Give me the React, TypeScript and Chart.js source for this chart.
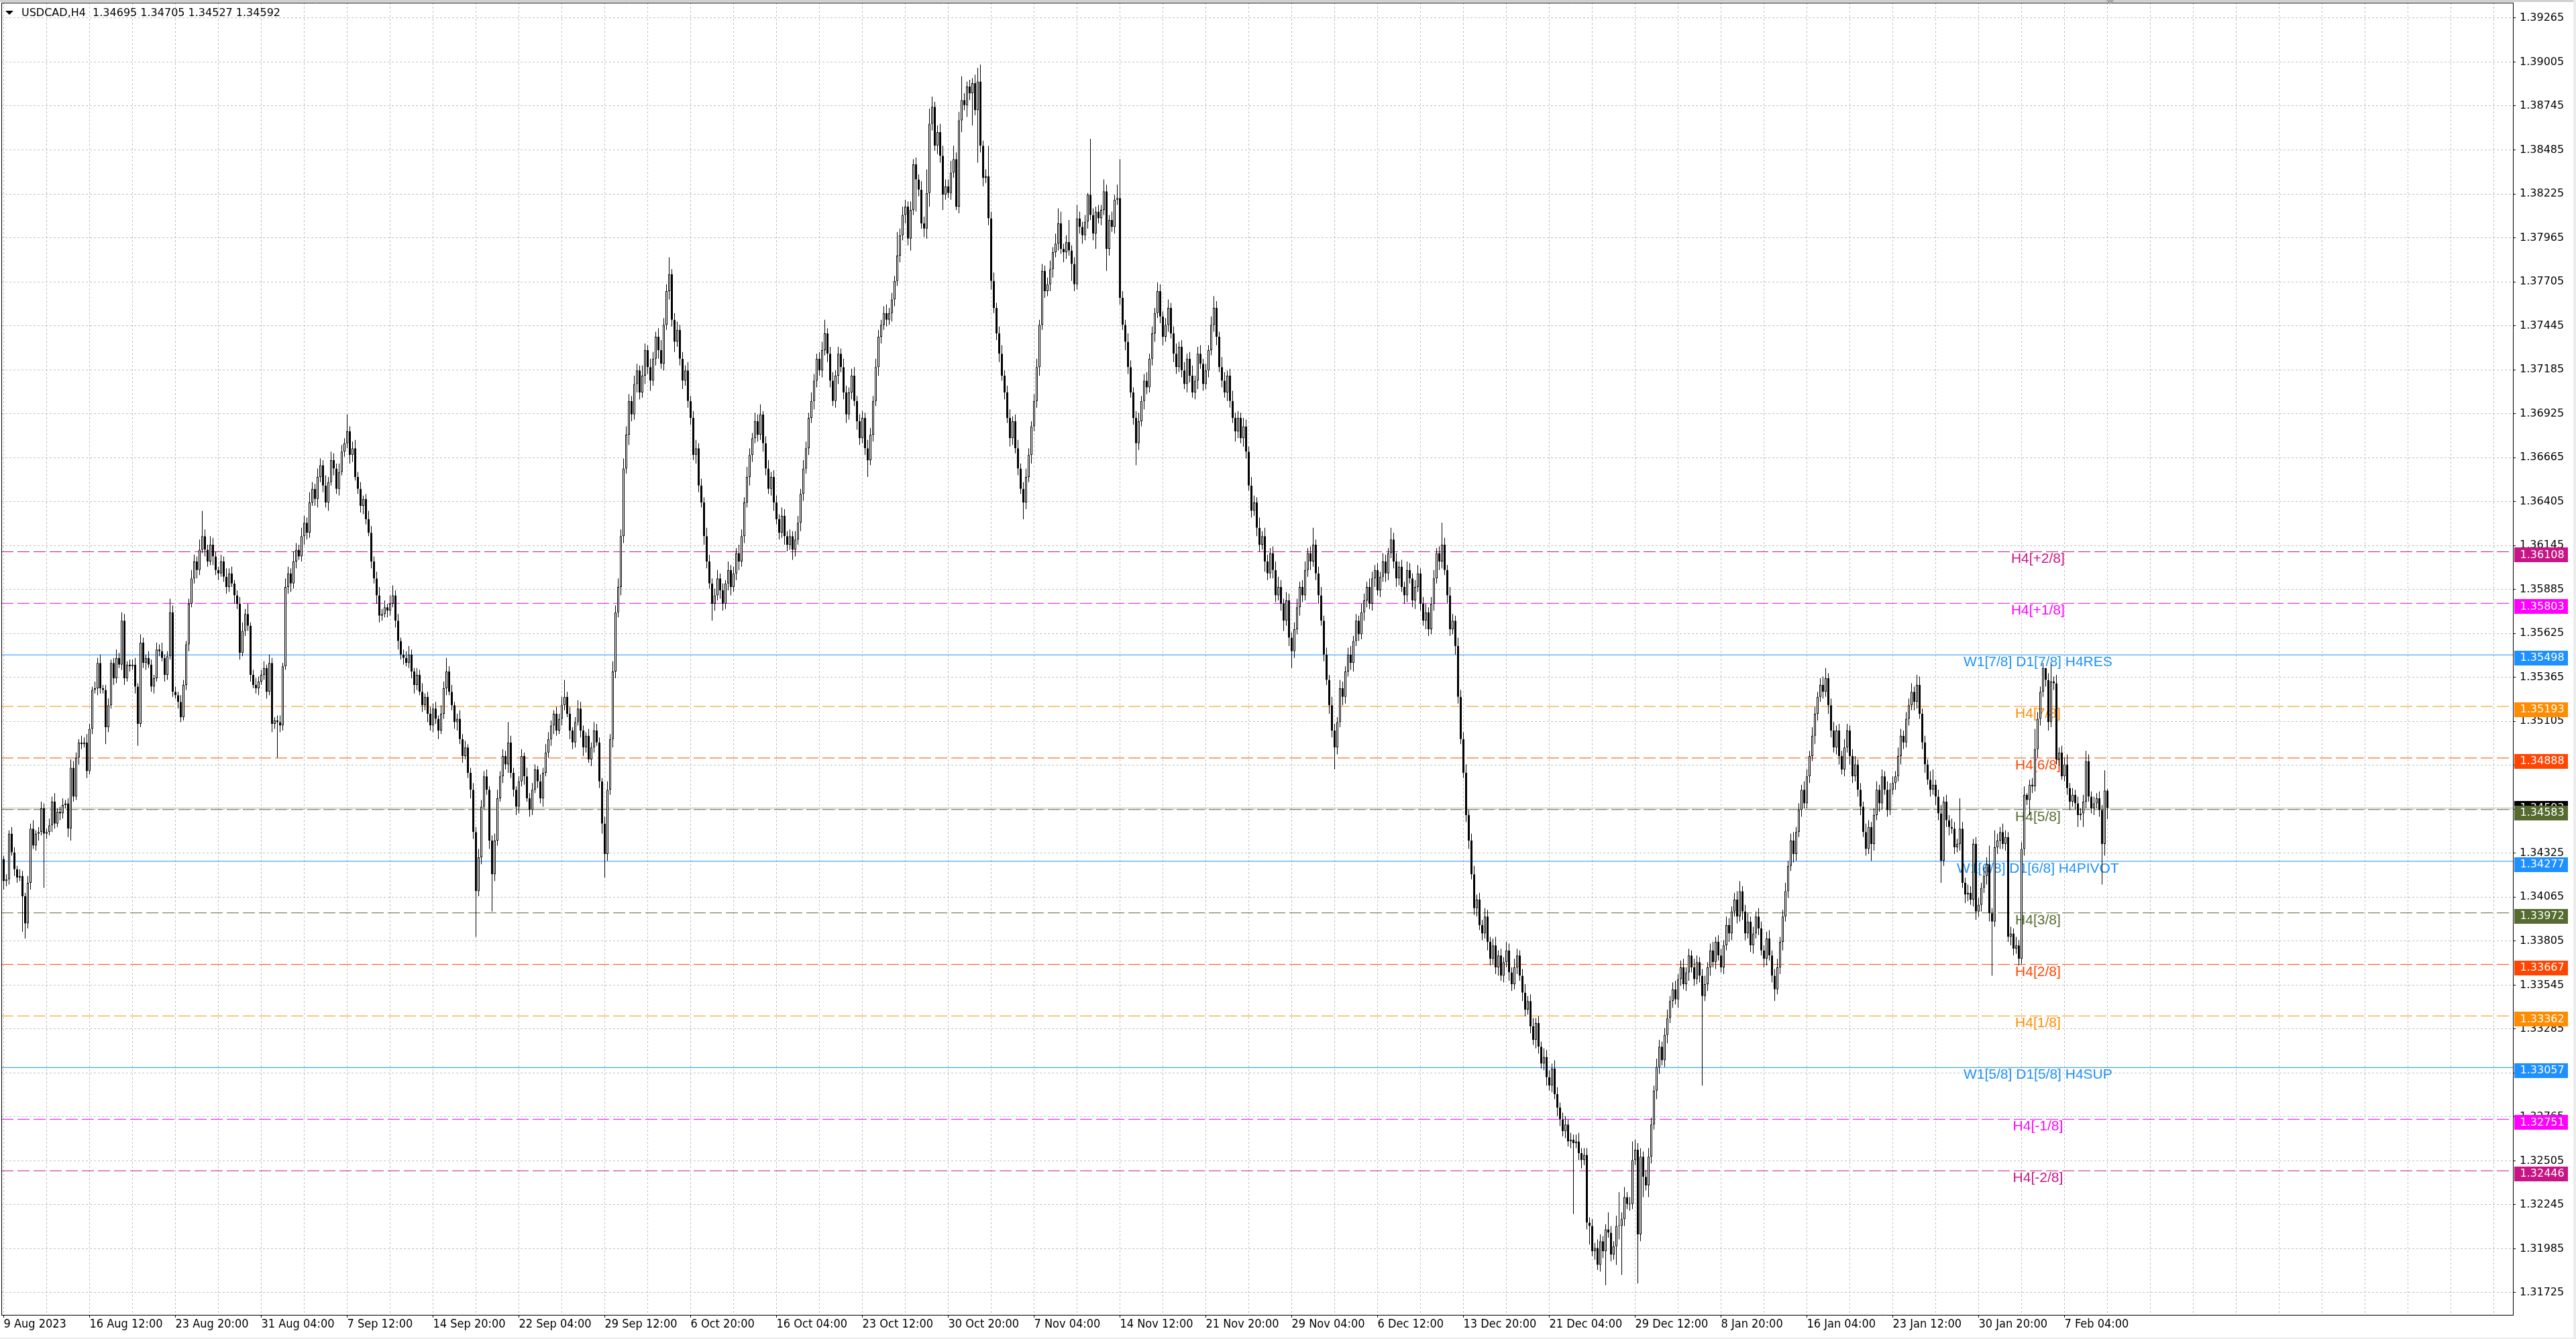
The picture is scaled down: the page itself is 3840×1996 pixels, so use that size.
import React, { useEffect, useRef } from "react";
import { Chart, registerables } from "chart.js";

Chart.register(...registerables);

// ---------- DATA (prices in pips above 1.30000) ----------
const TITLE = "USDCAD,H4  1.34695 1.34705 1.34527 1.34592";
const BASE = 1.3;
const PIP = 0.0001;
const firstOpen = 429;

// closes, 32 bars per row (one row per time-axis label)
const closes = [
  416,417,444,433,423,418,419,407,391,415,447,437,444,445,459,444,445,449,463,450,457,456,461,462,447,483,466,489,498,497,498,481,
  506,529,530,545,530,529,507,520,545,536,548,544,570,536,544,543,544,531,509,557,545,548,544,531,536,553,552,548,538,549,575,528,
  526,522,513,532,556,580,595,605,600,612,620,612,605,615,608,600,598,605,596,590,598,592,585,580,551,564,574,567,538,532,530,534,
  538,542,528,545,509,511,510,508,543,590,598,592,605,612,608,620,628,622,640,648,642,655,662,650,640,652,665,660,648,658,670,675,
  682,668,672,655,648,638,642,630,622,605,595,585,573,574,578,576,580,585,570,558,550,548,545,550,540,532,538,528,520,525,515,508,
  518,512,505,515,530,540,528,520,510,512,500,490,495,480,470,445,410,430,460,478,470,440,420,440,465,478,490,485,498,480,470,460,
  475,490,478,465,458,470,482,475,465,480,492,500,508,515,505,512,520,525,515,505,498,510,518,505,495,502,488,495,505,498,475,450,
  432,470,500,540,575,590,620,660,680,700,692,710,718,705,715,730,720,712,725,738,730,722,745,765,775,748,735,742,725,712,718,700,
  690,668,672,650,640,620,605,592,580,585,595,588,580,592,600,590,598,610,605,620,640,655,668,678,688,680,692,675,660,648,655,640,
  630,622,632,620,615,620,612,618,628,645,660,672,690,700,712,725,718,730,740,728,712,700,715,728,720,705,692,705,715,700,688,678,
  690,672,665,680,700,720,738,745,752,748,752,760,771,786,798,810,815,796,813,840,831,825,805,802,823,864,874,851,859,845,822,827,
  823,835,843,815,866,878,875,886,882,888,872,889,851,832,833,808,771,755,740,728,715,705,690,678,688,672,660,648,640,655,668,685,
  700,720,745,777,765,769,778,788,793,805,790,788,794,789,781,769,808,803,798,806,822,810,799,812,808,813,824,790,807,803,819,820,
  761,745,735,720,705,690,675,688,700,712,708,725,740,752,765,750,738,745,755,740,728,720,732,718,710,725,715,705,712,728,722,710,
  718,730,745,755,738,720,712,705,715,700,690,682,690,678,685,670,650,635,640,625,615,620,605,598,610,600,585,590,580,570,582,560,
  552,565,578,590,585,600,610,605,615,598,585,570,550,535,520,505,495,510,530,525,540,550,545,558,570,562,575,582,590,580,595,600,
  588,596,605,598,610,618,605,595,602,590,585,600,595,582,590,598,580,570,575,565,580,595,610,605,615,600,585,565,570,555,525,500,
  480,455,440,420,400,405,390,385,395,380,370,378,365,372,360,368,375,362,355,365,372,360,350,340,345,330,322,332,318,308,312,300,
  295,305,290,282,275,268,272,262,263,261,262,255,251,254,214,212,197,199,189,203,197,210,208,195,200,212,212,216,229,225,225,251,
  257,207,253,241,236,253,272,292,306,318,310,325,335,345,352,346,358,365,355,362,372,365,358,368,360,348,355,365,375,368,380,372,
  365,378,390,385,398,405,395,410,398,385,392,378,385,395,388,375,370,382,372,360,352,365,380,395,410,425,440,432,445,458,470,462,
  478,490,502,515,525,532,528,536,520,505,495,505,490,482,495,505,490,478,485,470,460,445,435,448,438,455,470,462,478,470,458,470,
  474,478,490,502,498,512,520,528,522,532,515,498,485,476,470,473,466,456,428,463,452,448,447,436,438,447,415,408,409,405,438,398,
  402,412,419,426,397,392,436,440,445,438,442,383,385,376,378,370,435,467,464,473,472,494,512,528,542,535,510,534,533,488,492,478,
  485,471,463,467,462,455,456,463,487,466,459,462,465,458,438,469.5,459.2,
];

// upper wick (pips above body top)
const upperWicks = [
  2,3,2,4,3,2,4,3,2,4,3,5,2,3,4,3,2,4,3,5,2,3,4,2,3,5,4,3,2,4,3,5,
  3,2,4,3,5,2,3,4,2,3,5,3,5,4,2,3,3,4,2,5,3,2,4,3,2,4,3,5,2,3,8,4,
  3,2,4,3,2,3,5,4,3,6,15,4,3,5,4,3,2,4,3,5,3,4,2,3,4,5,3,6,2,3,4,3,
  3,4,2,5,3,2,3,4,2,5,4,3,6,4,3,5,4,3,6,4,3,5,4,3,6,3,5,4,3,5,4,3,
  10,3,4,5,3,4,2,3,5,4,3,4,5,3,4,2,5,6,3,4,2,3,4,5,3,2,4,3,5,2,3,4,
  3,4,2,5,4,8,3,4,2,3,5,3,4,2,3,4,3,5,4,3,4,2,3,4,5,3,4,3,12,4,3,2,
  3,4,2,5,3,4,3,2,4,3,5,4,3,2,4,3,5,10,3,4,2,3,5,4,3,2,4,3,5,4,3,2,
  4,5,3,6,4,5,4,6,5,4,3,5,4,3,6,4,3,5,4,3,5,6,4,4,10,3,4,5,3,4,3,5,
  3,4,5,3,4,3,5,4,3,4,5,3,4,2,5,3,4,3,5,4,3,6,4,3,5,4,6,2,4,5,3,4,
  4,3,5,4,3,4,3,5,4,3,5,4,3,5,4,3,4,5,8,3,4,5,3,4,3,5,4,3,4,5,3,4,
  4,3,5,4,3,5,4,3,4,5,3,4,3,14,4,5,4,3,5,3,4,3,5,4,14,9,6,3,4,5,6,4,
  4,7,8,4,5,14,4,3,4,3,5,8,10,3,4,18,4,5,3,4,5,3,4,5,3,4,5,3,4,5,4,3,
  4,5,3,4,3,4,5,3,6,9,7,3,4,13,3,4,8,4,3,4,1,33,4,3,4,3,7,4,3,5,3,8,
  23,4,3,5,4,3,4,5,3,4,5,3,4,3,5,4,3,4,5,3,4,6,3,4,5,3,4,6,3,4,5,3,
  4,3,5,7,4,3,6,5,3,4,6,3,4,3,5,4,3,5,4,3,6,3,5,4,3,4,5,6,4,3,5,4,
  3,4,5,3,4,5,3,4,10,3,4,5,3,4,3,5,4,3,5,4,3,4,5,3,4,3,5,4,3,5,4,3,
  4,3,5,4,3,7,4,5,3,4,3,5,4,3,4,5,3,4,5,3,4,5,3,4,13,4,3,5,4,3,5,4,
  4,5,3,4,5,3,4,3,5,4,3,4,5,3,4,3,5,4,3,5,4,3,4,5,3,4,5,3,4,3,5,4,
  4,3,5,4,3,4,5,3,4,3,4,5,3,4,4,3,4,3,5,4,3,3,10,4,3,6,20,4,6,3,4,11,
  6,4,5,3,4,5,4,3,5,4,3,4,5,3,4,5,3,4,5,3,4,3,5,4,3,4,5,3,4,5,3,4,
  4,3,5,4,3,4,5,6,3,4,5,3,4,3,5,4,3,4,5,3,4,5,3,4,5,3,4,5,3,4,3,5,
  4,3,5,4,3,4,5,6,3,4,5,3,4,3,5,4,3,4,5,3,4,3,5,4,3,4,5,3,4,3,5,4,
  4,3,5,4,3,4,4,5,3,6,5,3,4,3,5,9,3,4,5,3,4,3,5,4,3,18,4,3,5,4,3,4,
  4,3,5,4,11,3,10,4,3,5,4,3,4,3,5,3,4,5,1,3,4,12,4,3,3,0,4,10,3,5,3,4,
  4,6,3,4,3,4,3,4,6,4,3,4,3,4,3,12,1,
];

// lower wick (pips below body bottom)
const lowerWicks = [
  5,3,3,2,4,3,2,21,9,3,4,2,3,4,2,32,3,2,4,3,2,4,3,2,5,7,3,2,4,3,2,4,
  2,3,2,4,3,2,10,3,2,4,3,2,3,4,2,3,2,4,13,2,3,4,2,3,4,2,3,2,4,3,2,3,
  2,4,3,2,3,4,2,3,5,3,2,4,3,2,5,3,4,2,3,4,3,2,5,3,4,2,3,3,4,2,3,4,
  2,3,4,2,5,3,21,4,3,2,4,5,3,4,2,3,5,4,3,2,4,5,3,4,3,5,2,4,3,4,2,3,
  3,5,4,2,3,4,5,3,2,4,3,5,4,3,2,4,3,2,4,5,3,4,2,3,4,5,3,2,4,3,5,3,
  4,3,5,2,3,4,2,3,4,5,3,4,2,3,5,4,27,3,4,2,3,5,22,4,3,2,4,3,5,3,4,5,
  4,3,5,2,4,3,2,4,3,5,2,3,4,5,3,2,4,3,2,5,4,3,2,4,5,3,2,4,3,2,4,6,
  14,4,3,5,4,3,5,4,3,6,4,3,5,4,3,5,4,6,3,4,5,3,4,3,5,4,6,3,4,5,3,4,
  4,3,5,4,3,5,4,3,10,4,3,5,4,3,4,5,3,4,5,3,4,3,5,4,3,4,3,5,4,3,4,5,
  3,4,3,5,4,3,6,4,3,5,4,3,4,3,5,4,3,4,3,5,4,3,4,5,3,4,5,3,4,3,5,4,
  3,4,10,3,4,3,5,4,3,4,3,5,4,3,4,3,5,4,7,3,19,4,3,5,6,8,4,3,5,4,9,3,
  3,4,3,2,4,7,3,7,4,19,3,31,4,5,3,4,5,3,4,5,3,4,3,5,4,3,4,3,10,4,3,5,
  3,4,5,3,4,3,4,5,3,4,3,6,4,3,10,4,3,4,5,3,4,3,4,9,3,4,3,13,4,3,4,3,
  4,3,5,4,3,4,13,4,3,5,4,3,4,5,3,4,5,3,4,3,5,4,3,4,3,5,4,3,4,5,3,4,
  3,4,3,4,5,3,4,3,5,4,3,6,4,3,5,4,3,4,3,5,4,3,6,4,3,5,4,3,4,6,3,5,
  10,4,3,5,4,3,4,5,3,4,5,3,4,3,5,4,13,4,3,5,4,3,4,5,3,4,3,5,4,3,4,5,
  3,4,3,5,4,3,4,5,4,3,5,4,3,4,5,3,4,3,5,4,3,4,3,5,4,3,5,4,3,5,4,3,
  3,4,5,3,4,5,3,4,3,5,4,3,4,5,3,4,3,5,4,3,4,3,5,4,3,4,3,5,4,3,4,5,
  3,4,3,5,4,3,4,3,4,42,3,4,5,3,4,11,3,5,3,4,4,20,3,4,3,11,8,29,4,3,4,3,
  3,29,4,12,3,7,4,3,5,4,3,4,5,3,4,3,5,4,3,4,5,3,4,3,4,53,3,4,5,3,4,3,
  3,4,3,5,4,3,4,3,5,4,3,4,5,3,4,3,5,4,3,4,7,3,4,5,3,4,3,5,4,3,4,3,
  3,4,3,5,4,3,4,3,5,4,3,4,5,3,4,3,5,4,3,4,5,3,4,3,10,4,3,5,4,3,4,3,
  3,4,3,5,4,3,4,3,5,4,3,4,5,3,4,3,5,4,13,3,4,5,3,4,3,4,3,5,4,3,4,5,
  3,4,3,5,5,32,3,4,5,3,4,3,5,4,3,4,3,4,3,9,4,3,5,4,3,4,5,3,4,3,4,2,
  3,4,5,3,4,7,3,8,4,3,3,4,3,4,24,7,6.5,
];

const xTickLabels = [
  "9 Aug 2023", "16 Aug 12:00", "23 Aug 20:00", "31 Aug 04:00", "7 Sep 12:00",
  "14 Sep 20:00", "22 Sep 04:00", "29 Sep 12:00", "6 Oct 20:00", "16 Oct 04:00",
  "23 Oct 12:00", "30 Oct 20:00", "7 Nov 04:00", "14 Nov 12:00", "21 Nov 20:00",
  "29 Nov 04:00", "6 Dec 12:00", "13 Dec 20:00", "21 Dec 04:00", "29 Dec 12:00",
  "8 Jan 20:00", "16 Jan 04:00", "23 Jan 12:00", "30 Jan 20:00", "7 Feb 04:00",
];

const yTickLabels = [
  "1.39265", "1.39005", "1.38745", "1.38485", "1.38225", "1.37965", "1.37705", "1.37445",
  "1.37185", "1.36925", "1.36665", "1.36405", "1.36145", "1.35885", "1.35625", "1.35365",
  "1.35105", "1.34845", "1.34585", "1.34325", "1.34065", "1.33805", "1.33545", "1.33285",
  "1.33025", "1.32765", "1.32505", "1.32245", "1.31985", "1.31725",
];

const levelPrices = [1.36108, 1.35803, 1.35498, 1.35193, 1.34888, 1.34583, 1.34277, 1.33972, 1.33667, 1.33362, 1.33057, 1.32751, 1.32446];
const levelNames = [
  "H4[+2/8]", "H4[+1/8]", "W1[7/8] D1[7/8] H4RES", "H4[7/8]", "H4[6/8]", "H4[5/8]",
  "W1[6/8] D1[6/8] H4PIVOT", "H4[3/8]", "H4[2/8]", "H4[1/8]", "W1[5/8] D1[5/8] H4SUP", "H4[-1/8]", "H4[-2/8]",
];
const levelColors = [
  "#C71585", "#FF00FF", "#1E90FF", "#FF8C00", "#FF4500", "#556B2F",
  "#1E90FF", "#556B2F", "#FF4500", "#FF8C00", "#1E90FF", "#FF00FF", "#C71585",
];
const levelSolid = [false, false, true, false, false, false, true, false, false, false, true, false, false];
const bidPrice = 1.34592;

// ---------- LAYOUT CONSTANTS ----------
const W = 3840;
const H = 1996;
const X_MIN = -0.875;
const X_MAX = 935.125;
const Y_MIN = 1.31594;
const Y_MAX = 1.39356;
const LEVEL_LABEL_BAR = 758.1;
const GRID_STEP = 16;
const LABEL_STEP = 32;

const candles = closes.map((c, i) => {
  const o = i === 0 ? firstOpen : closes[i - 1];
  const top = Math.max(o, c);
  const bot = Math.min(o, c);
  return {
    i,
    up: c >= o,
    bodyLo: BASE + bot * PIP,
    bodyHi: BASE + top * PIP,
    lo: BASE + (bot - lowerWicks[i]) * PIP,
    hi: BASE + (top + upperWicks[i]) * PIP,
  };
});

const decor = {
  id: "mt4decor",
  beforeDraw(chart: any) {
    const { ctx, width, height } = chart;
    ctx.save();
    ctx.fillStyle = "#ffffff";
    ctx.fillRect(0, 0, width, height);
    ctx.fillStyle = "#cfcfcf";
    ctx.fillRect(0, 0, width, 3);
    ctx.fillStyle = "#ececec";
    ctx.fillRect(0, height - 2, width, 2);
    ctx.fillRect(width - 4, 0, 4, height);
    ctx.restore();
  },
  beforeDatasetsDraw(chart: any) {
    const { ctx } = chart;
    const x = chart.scales.x;
    const y = chart.scales.y;
    ctx.save();
    ctx.font = "21px 'Liberation Sans', Arial, sans-serif";
    ctx.textAlign = "center";
    ctx.textBaseline = "alphabetic";
    const cx = x.getPixelForValue(LEVEL_LABEL_BAR);
    levelPrices.forEach((p, k) => {
      ctx.fillStyle = levelColors[k];
      ctx.fillText(levelNames[k], cx, y.getPixelForValue(p) + 17);
    });
    ctx.restore();
  },
  afterDraw(chart: any) {
    const { ctx, chartArea: a } = chart;
    const x = chart.scales.x;
    const y = chart.scales.y;
    ctx.save();
    // frame (left + top)
    ctx.strokeStyle = "#000";
    ctx.lineWidth = 1;
    ctx.beginPath();
    ctx.moveTo(a.left + 0.5, a.bottom);
    ctx.lineTo(a.left + 0.5, a.top + 0.5);
    ctx.lineTo(a.right + 1, a.top + 0.5);
    ctx.stroke();

    // price boxes on the axis
    ctx.font = "16px 'DejaVu Sans', sans-serif";
    ctx.textAlign = "left";
    ctx.textBaseline = "middle";
    const by = y.getPixelForValue(bidPrice);
    ctx.fillStyle = "#000";
    ctx.fillRect(a.right + 2, Math.round(by - 11), 80, 22);
    ctx.fillStyle = "#fff";
    ctx.fillText(bidPrice.toFixed(5), a.right + 10.5, by);
    levelPrices.forEach((p, k) => {
      const ly = y.getPixelForValue(p);
      ctx.fillStyle = levelColors[k];
      ctx.fillRect(a.right + 2, Math.round(ly - 6), 80, 22);
      ctx.fillStyle = "#fff";
      ctx.fillText(p.toFixed(5), a.right + 10.5, ly + 5);
    });

    // title
    ctx.fillStyle = "#000";
    ctx.beginPath();
    ctx.moveTo(8, 16);
    ctx.lineTo(20, 16);
    ctx.lineTo(14, 22);
    ctx.closePath();
    ctx.fill();
    ctx.font = "16px 'DejaVu Sans', sans-serif";
    ctx.textBaseline = "middle";
    ctx.fillText(TITLE, 32, 19.5);

    // chart shift marker
    const sx = x.getPixelForValue(closes.length);
    ctx.fillStyle = "#a8a8a8";
    ctx.beginPath();
    ctx.moveTo(sx - 6, 0);
    ctx.lineTo(sx + 6, 0);
    ctx.lineTo(sx, 7);
    ctx.closePath();
    ctx.fill();
    ctx.restore();
  },
};

export default function App() {
  const ref = useRef<HTMLCanvasElement | null>(null);

  useEffect(() => {
    document.body.style.margin = "0";
    document.body.style.overflow = "hidden";
    document.documentElement.style.overflow = "hidden";
    const canvas = ref.current;
    if (!canvas) return;

    const gridTicks: number[] = [];
    for (let v = 0; v <= X_MAX; v += GRID_STEP) gridTicks.push(v);

    const levelDatasets = levelPrices.map((p, k) => ({
      type: "line" as const,
      label: levelNames[k],
      data: [{ x: X_MIN, y: p }, { x: X_MAX, y: p }],
      borderColor: levelColors[k],
      borderWidth: 1,
      borderDash: levelSolid[k] ? [] : [18, 6],
      pointRadius: 0,
      fill: false,
      tension: 0,
      order: 3,
    }));

    const chart = new Chart(canvas, {
      type: "bar",
      data: {
        datasets: [
          {
            type: "bar",
            label: "body",
            data: candles.map((k) => ({ x: k.i, y: [k.bodyLo, k.bodyHi] })) as any,
            backgroundColor: candles.map((k) => (k.up ? "#ffffff" : "#000000")),
            borderColor: "#000000",
            borderWidth: 1,
            borderSkipped: false,
            barThickness: 3,
            minBarLength: 1,
            grouped: false,
            inflateAmount: 0,
            order: 0,
          } as any,
          {
            type: "bar",
            label: "wick",
            data: candles.map((k) => ({ x: k.i, y: [k.lo, k.hi] })) as any,
            backgroundColor: "#000000",
            borderWidth: 0,
            barThickness: 1,
            grouped: false,
            inflateAmount: 0,
            order: 1,
          } as any,
          {
            type: "line",
            label: "bid",
            data: [{ x: X_MIN, y: bidPrice }, { x: X_MAX, y: bidPrice }],
            borderColor: "#b4b4b4",
            borderWidth: 1,
            pointRadius: 0,
            fill: false,
            order: 2,
          } as any,
          ...(levelDatasets as any[]),
        ],
      },
      options: {
        animation: false,
        responsive: false,
        maintainAspectRatio: false,
        devicePixelRatio: 1,
        events: [],
        layout: { autoPadding: false, padding: { left: 2, top: 4, right: 0, bottom: 0 } },
        plugins: { legend: { display: false }, tooltip: { enabled: false }, title: { display: false } },
        scales: {
          x: {
            type: "linear",
            min: X_MIN,
            max: X_MAX,
            bounds: "data",
            offset: false,
            afterBuildTicks: (s: any) => {
              s.ticks = gridTicks.map((v) => ({ value: v }));
            },
            afterFit: (s: any) => {
              s.height = 36;
              s.paddingLeft = 0;
              s.paddingRight = 0;
            },
            ticks: {
              autoSkip: false,
              maxRotation: 0,
              minRotation: 0,
              align: "start",
              padding: 0,
              color: "#000",
              font: { family: "'DejaVu Sans Condensed', 'DejaVu Sans', sans-serif", size: 18 },
              callback: (v: any) => {
                const n = Number(v);
                if (n % LABEL_STEP !== 0) return "";
                return xTickLabels[n / LABEL_STEP] ?? "";
              },
            },
            grid: {
              offset: false,
              color: "#c0c0c0",
              lineWidth: 1,
              tickLength: 4,
              tickColor: (ctx: any) => {
                const v = ctx.tick ? ctx.tick.value : -1;
                return v % LABEL_STEP === 0 && v / LABEL_STEP < xTickLabels.length ? "#000" : "rgba(0,0,0,0)";
              },
            },
            border: { display: true, color: "#000", width: 1, dash: [3, 3] },
          } as any,
          y: {
            type: "linear",
            position: "right",
            min: Y_MIN,
            max: Y_MAX,
            bounds: "data",
            afterBuildTicks: (s: any) => {
              s.ticks = yTickLabels.map((t) => ({ value: parseFloat(t) })).reverse();
            },
            afterFit: (s: any) => {
              s.width = 94;
              s.paddingTop = 0;
              s.paddingBottom = 0;
            },
            ticks: {
              autoSkip: false,
              padding: 6,
              color: "#000",
              font: { family: "'DejaVu Sans', sans-serif", size: 16 },
              callback: (v: any) => Number(v).toFixed(5),
            },
            grid: { color: "#c0c0c0", lineWidth: 1, tickLength: 4, tickColor: "#000" },
            border: { display: true, color: "#000", width: 1, dash: [3, 3] },
          } as any,
        },
      },
      plugins: [decor],
    } as any);

    return () => chart.destroy();
  }, []);

  return (
    <div style={{ width: W, height: H, overflow: "hidden" }}>
      <canvas ref={ref} width={W} height={H} style={{ display: "block", width: W, height: H }} />
    </div>
  );
}
